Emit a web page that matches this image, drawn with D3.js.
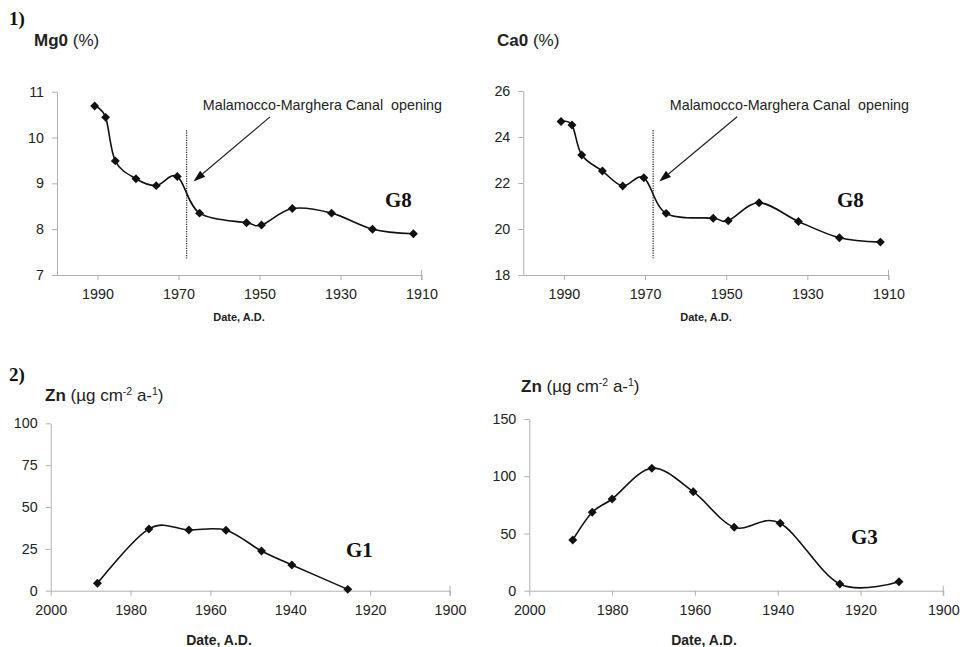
<!DOCTYPE html>
<html>
<head>
<meta charset="utf-8">
<script src="https://cdn.jsdelivr.net/npm/d3@7/dist/d3.min.js"></script>
<style>
  html, body { margin: 0; padding: 0; background: #fff; }
  svg { display: block; }
  text { font-family: "Liberation Sans", Arial, Helvetica, sans-serif; fill: #222; }
  .serif { font-family: "Liberation Serif", "Times New Roman", serif; font-weight: bold; fill: #111; }
</style>
</head>
<body>
<svg id="chart" width="960" height="647"></svg>
<script>
// Core G8: sampling dates and oxide contents
const g8Years  = [1990.7, 1988.0, 1985.6, 1980.5, 1975.5, 1970.3, 1964.8, 1953.2, 1949.5, 1941.9, 1932.2, 1922.1, 1912.0];
const mgoValues = [10.69, 10.44, 9.49, 9.10, 8.95, 9.15, 8.35, 8.14, 8.09, 8.45, 8.35, 8.00, 7.90];
const caoValues = [24.67, 24.52, 23.22, 22.52, 21.87, 22.23, 20.68, 20.47, 20.36, 21.14, 20.33, 19.62, 19.43];

// Core G1: zinc flux
const g1Years = [1988.3, 1975.4, 1965.4, 1956.1, 1947.2, 1939.6, 1925.6];
const g1Zn    = [4.4, 36.9, 36.3, 36.1, 23.7, 15.4, 0.8];

// Core G3: zinc flux
const g3Years = [1989.5, 1984.8, 1980.0, 1970.4, 1960.4, 1950.5, 1939.4, 1925.0, 1910.7];
const g3Zn    = [44.3, 68.5, 80.1, 107.0, 86.5, 55.4, 58.9, 5.8, 7.9];

// Tick labels
const topYearTicks    = [1990, 1970, 1950, 1930, 1910];
const bottomYearTicks = [2000, 1980, 1960, 1940, 1920, 1900];
const mgoTicks = [7, 8, 9, 10, 11];
const caoTicks = [18, 20, 22, 24, 26];
const g1Ticks  = [0, 25, 50, 75, 100];
const g3Ticks  = [0, 50, 100, 150];

// Canal opening marker (year) and its annotation
const canalYear = 1968;
const canalLabel = "Malamocco-Marghera Canal\u00a0 opening";

const svg = d3.select("#chart");

function drawPanel(p) {
  const x = d3.scaleLinear().domain(p.xDomain).range(p.xRange);
  const y = d3.scaleLinear().domain(p.yDomain).range(p.yRange);
  const g = svg.append("g");

  // axes
  const xAxis = d3.axisBottom(x).tickValues(p.xTicks).tickFormat(d3.format("d"))
    .tickSize(5).tickSizeOuter(0).tickPadding(9);
  const yAxis = d3.axisLeft(y).tickValues(p.yTicks).tickFormat(d3.format("d"))
    .tickSize(5).tickSizeOuter(0).tickPadding(8);

  const gx = g.append("g").attr("transform", `translate(0,${p.yRange[0]})`).call(xAxis);
  const gy = g.append("g").attr("transform", `translate(${p.xRange[0]},0)`).call(yAxis);
  [gx, gy].forEach(a => {
    a.selectAll("path, line").attr("stroke", "#b0b0b0").attr("stroke-width", 1);
    a.selectAll("text").attr("font-size", 14.3).attr("fill", "#222")
      .attr("font-family", "Liberation Sans, Arial, sans-serif");
  });
  // closing tick at the right end of the date axis
  g.append("line")
    .attr("x1", p.xRange[1]).attr("x2", p.xRange[1])
    .attr("y1", p.yRange[0] - 5).attr("y2", p.yRange[0] + 5)
    .attr("stroke", "#b0b0b0");

  // canal opening marker
  if (p.canal) {
    const c = p.canal;
    g.append("line")
      .attr("x1", x(canalYear)).attr("x2", x(canalYear))
      .attr("y1", y(c.lineTop)).attr("y2", y(c.lineBottom))
      .attr("stroke", "#333").attr("stroke-width", 1.3)
      .attr("stroke-dasharray", "1.2,1.2");
    const x1 = x(c.tail[0]), y1 = y(c.tail[1]);
    const x2 = x(c.head[0]), y2 = y(c.head[1]);
    const ang = Math.atan2(y2 - y1, x2 - x1);
    const L = 12, W = 4;
    const bx = x2 - L * Math.cos(ang), by = y2 - L * Math.sin(ang);
    g.append("line")
      .attr("x1", x1).attr("y1", y1).attr("x2", bx).attr("y2", by)
      .attr("stroke", "#222").attr("stroke-width", 1.2);
    g.append("path")
      .attr("d", `M${x2},${y2}L${bx + W * Math.sin(ang)},${by - W * Math.cos(ang)}L${bx - W * Math.sin(ang)},${by + W * Math.cos(ang)}Z`)
      .attr("fill", "#111");
    g.append("text")
      .attr("x", x(c.text[0])).attr("y", y(c.text[1]))
      .attr("font-size", 14.3).attr("fill", "#333")
      .text(canalLabel);
  }

  // data line
  const pts = p.years.map((yr, i) => [yr, p.values[i]]);
  const line = d3.line().x(d => x(d[0])).y(d => y(d[1])).curve(d3.curveCatmullRom.alpha(0));
  g.append("path").datum(pts)
    .attr("d", line).attr("fill", "none")
    .attr("stroke", "#111").attr("stroke-width", 1.6);

  // diamond markers
  const diamond = d3.symbol().type(d3.symbolSquare).size(40);
  g.selectAll(".pt").data(pts).join("path")
    .attr("d", diamond)
    .attr("transform", d => `translate(${x(d[0])},${y(d[1])}) rotate(45)`)
    .attr("fill", "#111");

  // core label
  g.append("text").attr("class", "serif")
    .attr("x", p.core.x).attr("y", p.core.y)
    .attr("font-size", 21).text(p.core.name);

  // y-axis title
  const t = g.append("text").attr("x", p.title.x).attr("y", p.title.y).attr("font-size", 17);
  t.append("tspan").attr("font-weight", "bold").text(p.title.bold);
  if (p.title.zn) {
    t.append("tspan").text(" (\u00b5g cm");
    t.append("tspan").attr("font-size", 10.5).attr("dy", -6).text("-2");
    t.append("tspan").attr("dy", 6).text(" a-");
    t.append("tspan").attr("font-size", 10.5).attr("dy", -6).text("1");
    t.append("tspan").attr("dy", 6).text(")");
  } else {
    t.append("tspan").text(" (%)");
  }

  // date axis title
  g.append("text")
    .attr("x", p.dateLabel.x).attr("y", p.dateLabel.y)
    .attr("text-anchor", "middle").attr("font-weight", "bold")
    .attr("font-size", p.dateLabel.size).text("Date, A.D.");
}

drawPanel({
  xDomain: [2000, 1910], xRange: [57, 421.5], xTicks: topYearTicks,
  yDomain: [7, 11], yRange: [275, 91.7], yTicks: mgoTicks,
  years: g8Years, values: mgoValues,
  canal: { lineTop: 10.16, lineBottom: 7.36, tail: [1947.4, 10.45], head: [1966.3, 9.04], text: [1964, 10.6] },
  core: { name: "G8", x: 385, y: 207 },
  title: { bold: "Mg0", x: 34, y: 46 },
  dateLabel: { x: 239, y: 321, size: 11 }
});

drawPanel({
  xDomain: [2000, 1910], xRange: [523.3, 888.5], xTicks: topYearTicks,
  yDomain: [18, 26], yRange: [275, 91], yTicks: caoTicks,
  years: g8Years, values: caoValues,
  canal: { lineTop: 24.3, lineBottom: 18.73, tail: [1947.3, 24.88], head: [1966.5, 22.06], text: [1963.9, 25.17] },
  core: { name: "G8", x: 837, y: 207 },
  title: { bold: "Ca0", x: 497, y: 46 },
  dateLabel: { x: 706, y: 321, size: 11 }
});

drawPanel({
  xDomain: [2000, 1900], xRange: [50.7, 450], xTicks: bottomYearTicks,
  yDomain: [0, 100], yRange: [590.7, 423.3], yTicks: g1Ticks,
  years: g1Years, values: g1Zn,
  core: { name: "G1", x: 346, y: 557 },
  title: { bold: "Zn", x: 45, y: 401, zn: true },
  dateLabel: { x: 219, y: 645, size: 14 }
});

drawPanel({
  xDomain: [2000, 1900], xRange: [529.3, 943.3], xTicks: bottomYearTicks,
  yDomain: [0, 150], yRange: [590.7, 419], yTicks: g3Ticks,
  years: g3Years, values: g3Zn,
  core: { name: "G3", x: 851, y: 544 },
  title: { bold: "Zn", x: 521, y: 392, zn: true },
  dateLabel: { x: 704, y: 645, size: 14 }
});

// panel numbers
svg.append("text").attr("class", "serif").attr("x", 9).attr("y", 25).attr("font-size", 19).text("1)");
svg.append("text").attr("class", "serif").attr("x", 9).attr("y", 381).attr("font-size", 19).text("2)");
</script>
</body>
</html>
